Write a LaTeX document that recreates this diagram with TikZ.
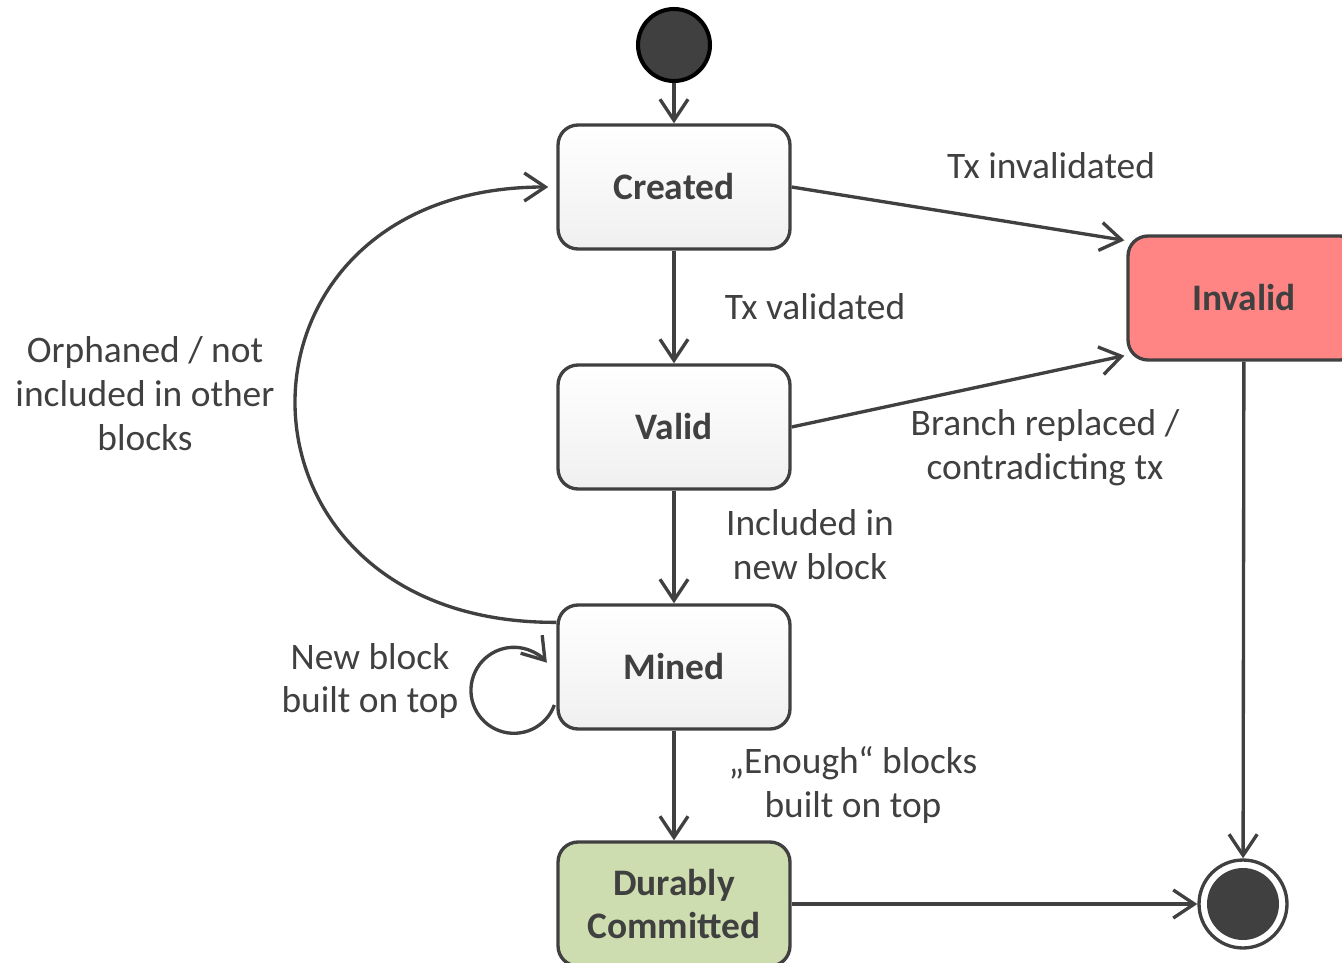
\documentclass[tikz,border=0pt]{standalone}
\usepackage{fontspec}
\setmainfont{Carlito}
\usetikzlibrary{arrows.meta,calc}
\definecolor{linegray}{HTML}{404040}
\definecolor{badred}{HTML}{FF8585}
\definecolor{goodgreen}{HTML}{CEDDAF}

\begin{document}
\begin{tikzpicture}[x=0.02cm, y=0.02cm,
    box/.style={draw=linegray, line width=1.9pt, rounded corners=0.4cm,
        minimum width=4.64cm, minimum height=2.48cm, text=linegray,
        font=\bfseries\fontsize{21.3}{25}\selectfont, align=center},
    state/.style={box, top color=white, bottom color=black!6},
    lbl/.style={text=linegray, font=\fontsize{21.3}{25}\selectfont, align=center},
    arr/.style={draw=linegray, line width=1.9pt, -{Straight Barb[length=12pt,width=16pt]}}]
            \clip (0,0) rectangle (1342,-963);

            \node[circle, draw=black, line width=2.3pt, fill=linegray, minimum size=1.44cm] (start) at (674,-45) {};
            \node[state] (created) at (674,-187) {Created};
            \node[state] (valid) at (674,-427) {Valid};
            \node[state] (mined) at (674,-667) {Mined};
            \node[box, fill=goodgreen] (durable) at (674,-904) {Durably\\Committed};
            \node[box, fill=badred] (invalid) at (1244,-298) {Invalid};
            \node[circle, draw=linegray, line width=1.9pt, fill=white, minimum size=1.76cm,
                path picture={\fill[linegray] (path picture bounding box.center) circle (0.72cm);}] (final) at (1243,-904) {};

            \node[lbl] (lvalidated) at (815,-307) {Tx validated};
            \node[lbl] (lincluded) at (810,-545) {Included in\\new block};
            \node[lbl] (lenough) at (853,-785) {„Enough“ blocks\\built on top};
            \node[lbl] (linvalidated) at (1051,-166) {Tx invalidated};
            \node[lbl] (lbranch) at (1045,-448) {Branch replaced /\\contradicting tx};
            \node[lbl] (lorphaned) at (145,-394) {Orphaned / not\\included in other\\blocks};
            \node[lbl] (lnewblock) at (370,-681) {New block\\built on top};

            \draw[arr] (start) -- (created);
            \draw[arr] (created) -- (valid);
            \draw[arr] (valid) -- (mined);
            \draw[arr] (mined) -- (durable);
            \draw[arr] (created.east) -- ($(invalid.north west)+(-2,-6)$);
            \draw[arr] (valid.east) -- ($(invalid.south west)+(-2,6)$);
            \draw[arr] (invalid) -- (final);
            \draw[arr] (durable) -- (final);
            \draw[arr] ($(mined.north west)+(0,-19)$) .. controls (210,-624) and (210,-187) .. ($(created.west)+(-8,0)$);
            \coordinate (loopstart) at ($(mined.west)+(-2,-38)$);
            \draw[arr] (loopstart) arc[start angle=-20, end angle=-320, radius=43];
        \end{tikzpicture}
\end{document}
